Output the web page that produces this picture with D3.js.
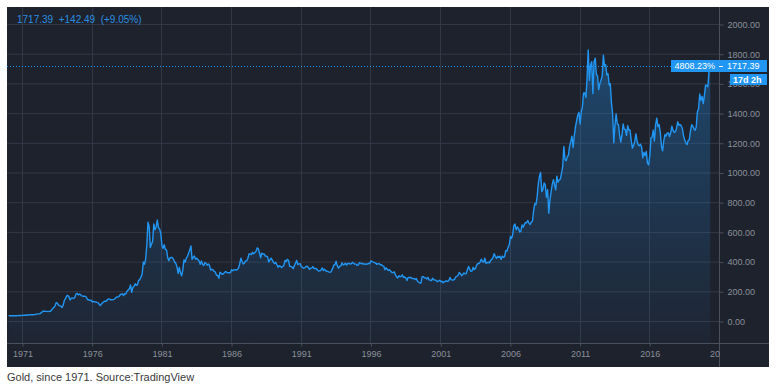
<!DOCTYPE html>
<html><head><meta charset="utf-8">
<script src="https://cdn.jsdelivr.net/npm/d3@7"></script>
<style>
html,body{margin:0;padding:0;background:#ffffff;}
svg{display:block;}
</style></head>
<body>
<svg id="chart" width="777" height="389"></svg>
<script>
// ---------- DATA (monthly gold price, USD/oz, from Jan 1970) ----------
const startYear = 1970;
const prices1970s = [
  35.0, 35.0, 35.1, 35.6, 35.9, 35.3, 35.3, 35.4, 36.2, 37.5, 37.4, 37.4,
  37.9, 38.7, 38.9, 39.0, 40.5, 40.1, 41.0, 42.7, 42.0, 42.5, 43.0, 43.6,
  46.0, 48.3, 48.3, 49.0, 54.6, 62.0, 67.0, 65.5, 64.9, 64.9, 62.9, 64.9,
  65.1, 74.2, 84.4, 90.5, 102.0, 123.3, 120.3, 106.8, 103.0, 100.1, 90.8, 106.7,
  139.3, 150.2, 168.4, 172.2, 163.3, 142.0, 154.1, 154.6, 151.8, 158.8, 181.7, 186.5,
  175.8, 181.8, 177.1, 169.7, 167.0, 166.3, 166.7, 159.8, 144.0, 142.8, 138.3, 140.3,
  128.2, 132.3, 129.6, 128.4, 125.9, 123.8, 112.5, 104.0, 116.0, 123.2, 130.3, 134.5,
  132.3, 142.8, 148.9, 147.3, 143.0, 143.0, 144.1, 146.0, 154.1, 161.5, 160.5, 164.9,
  175.8, 182.3, 181.6, 170.9, 184.2, 183.1, 200.3, 208.7, 217.1, 242.6, 193.4, 226.0,
  233.7, 251.3, 240.1, 245.3, 274.6, 277.5, 296.5, 315.1, 397.3, 382.0, 415.7, 512.0
];
const prices1980s = [
  665.0, 637.0, 494.5, 517.5, 535.5, 653.5, 614.2, 631.3, 680.0, 629.0, 619.8, 589.8,
  506.5, 489.0, 513.8, 482.8, 479.3, 426.0, 406.0, 425.5, 428.8, 427.0, 414.5, 397.5,
  387.0, 362.6, 320.0, 361.3, 325.3, 304.0, 342.9, 411.5, 397.0, 423.3, 436.0, 456.9,
  480.0, 505.0, 414.8, 429.3, 437.5, 416.0, 422.0, 414.3, 405.0, 382.0, 405.0, 382.4,
  373.8, 394.3, 388.5, 375.8, 384.3, 373.1, 342.4, 348.3, 343.8, 333.5, 329.0, 308.3,
  306.7, 287.8, 329.0, 321.4, 314.0, 317.8, 327.5, 333.3, 326.0, 325.3, 325.3, 326.8,
  345.5, 338.2, 344.0, 345.8, 343.2, 345.5, 357.5, 384.7, 423.2, 401.0, 383.5, 390.9,
  405.0, 405.9, 421.0, 451.0, 451.0, 447.3, 462.5, 453.4, 459.5, 468.8, 492.5, 486.5,
  458.0, 426.2, 457.0, 451.0, 451.6, 436.6, 436.8, 430.0, 397.7, 412.4, 422.6, 410.3,
  394.0, 387.0, 395.1, 378.5, 362.0, 373.0, 368.3, 359.8, 366.5, 375.3, 408.2, 401.0
];
const prices1990s = [
  415.1, 407.7, 368.5, 367.8, 363.1, 352.2, 372.3, 387.8, 408.4, 379.5, 384.9, 386.2,
  366.0, 362.7, 355.7, 357.8, 366.7, 368.4, 362.9, 347.4, 354.9, 357.5, 366.3, 353.2,
  354.1, 353.1, 341.7, 336.4, 337.5, 343.4, 357.8, 340.0, 349.0, 339.3, 334.2, 333.0,
  329.0, 327.6, 337.8, 354.3, 377.5, 378.5, 401.8, 371.6, 355.5, 369.6, 370.9, 391.8,
  377.9, 381.6, 389.2, 376.5, 387.6, 388.3, 384.0, 385.8, 394.9, 389.1, 383.1, 383.3,
  374.9, 376.4, 392.0, 389.8, 385.3, 387.1, 383.4, 382.4, 384.0, 382.7, 387.8, 387.0,
  405.6, 400.7, 396.4, 392.9, 390.6, 382.0, 385.3, 386.5, 379.0, 379.5, 371.3, 369.3,
  345.5, 358.6, 348.2, 340.2, 345.6, 334.6, 326.4, 325.4, 332.1, 311.4, 296.8, 290.2,
  304.9, 297.4, 301.0, 310.7, 293.6, 296.3, 288.9, 273.4, 293.9, 292.3, 294.7, 287.8,
  285.4, 287.1, 279.5, 286.6, 268.6, 261.0, 255.6, 254.8, 299.0, 299.1, 291.4, 290.3
];
const prices2000s = [
  283.3, 293.7, 276.8, 275.1, 272.3, 288.2, 276.8, 277.0, 273.7, 264.5, 269.1, 274.5,
  265.6, 267.5, 257.7, 263.2, 267.5, 270.6, 265.9, 273.0, 293.1, 278.8, 275.5, 276.5,
  282.3, 296.9, 301.4, 308.2, 326.6, 318.5, 304.7, 312.8, 323.7, 316.9, 319.1, 347.2,
  367.5, 347.5, 334.9, 336.8, 361.4, 346.0, 354.8, 375.6, 388.0, 386.3, 398.4, 416.3,
  399.8, 395.9, 423.7, 388.5, 393.3, 395.8, 391.4, 407.3, 415.7, 425.6, 453.4, 435.6,
  422.2, 435.5, 427.5, 435.7, 414.5, 437.1, 429.0, 433.3, 473.3, 470.8, 495.7, 513.0,
  568.8, 556.0, 582.0, 644.0, 653.0, 613.5, 632.5, 623.5, 599.3, 603.8, 646.7, 632.0,
  650.5, 664.2, 661.8, 677.0, 659.1, 650.5, 665.5, 672.0, 743.0, 789.5, 783.5, 833.8,
  923.3, 975.0, 1000.0, 871.0, 885.8, 930.3, 918.0, 833.0, 884.5, 725.0, 814.5, 869.8,
  919.5, 952.0, 916.5, 883.3, 975.5, 934.5, 949.5, 955.5, 995.8, 1040.0, 1175.8, 1087.5
];
const prices2010s = [
  1078.5, 1108.3, 1115.5, 1179.3, 1207.5, 1244.0, 1169.0, 1246.0, 1307.0, 1346.8, 1386.0, 1405.5,
  1327.0, 1411.0, 1439.0, 1535.5, 1536.5, 1505.5, 1628.5, 1826.0, 1620.0, 1722.0, 1746.0, 1531.0,
  1744.0, 1770.0, 1662.5, 1651.3, 1558.0, 1598.5, 1622.0, 1648.5, 1790.0, 1719.0, 1726.0, 1657.5,
  1664.8, 1588.5, 1598.3, 1469.0, 1394.5, 1200.0, 1314.5, 1394.8, 1326.5, 1324.0, 1253.0, 1204.5,
  1251.0, 1326.5, 1291.8, 1288.5, 1250.5, 1315.0, 1285.3, 1285.8, 1216.5, 1164.3, 1182.8, 1206.0,
  1260.3, 1214.0, 1187.0, 1180.3, 1190.5, 1171.0, 1098.4, 1135.0, 1114.0, 1142.3, 1061.8, 1052.0,
  1111.8, 1234.9, 1237.0, 1285.7, 1212.1, 1320.8, 1366.0, 1309.3, 1322.5, 1272.0, 1178.1, 1145.9,
  1212.8, 1255.6, 1244.9, 1266.5, 1266.2, 1242.3, 1267.6, 1311.8, 1283.1, 1270.2, 1274.6, 1296.5,
  1341.3, 1318.4, 1323.9, 1315.3, 1298.5, 1250.5, 1220.0, 1201.5, 1187.3, 1214.9, 1221.0, 1279.0,
  1321.2, 1313.0, 1295.4, 1283.6, 1305.6, 1409.6, 1427.6, 1528.4, 1485.3, 1513.0, 1464.0, 1517.3
];
const prices2020s = [1587.9, 1585.7, 1577.0, 1686.2, 1717.39];

const yTickValues = [0, 200, 400, 600, 800, 1000, 1200, 1400, 1600, 1800, 2000];
const xTickYears = [1971, 1976, 1981, 1986, 1991, 1996, 2001, 2006, 2011, 2016, 2021];
const headerText = "1717.39  +142.49  (+9.05%)";
const lastPrice = 1717.39;
const changeLabel = "4808.23%";
const countdownLabel = "17d 2h";
const captionText = "Gold, since 1971. Source:TradingView";

// ---------- BUILD ----------
const allPrices = [...prices1970s, ...prices1980s, ...prices1990s, ...prices2000s, ...prices2010s, ...prices2020s];
const data = allPrices.map((v, i) => ({ date: new Date(startYear, i, 15), v }));

const svg = d3.select("#chart");
const panel = { x: 7, y: 7, w: 762, h: 360 };
const axisX = 719;   // price-scale separator
const axisY = 343;   // time-scale separator

const bg = "#1e222d", grid = "#333846", sep = "#4a4f5b", labelCol = "#8b909a", blue = "#2196f3";

const x = d3.scaleTime().domain([new Date(1971, 0, 1), new Date(2021, 0, 1)]).range([22, axisX]);
const y = d3.scaleLinear().domain([0, 2000]).range([321, 24]);

svg.append("rect").attr("x", panel.x).attr("y", panel.y).attr("width", panel.w).attr("height", panel.h).attr("fill", bg);

const defs = svg.append("defs");
defs.append("clipPath").attr("id", "plotClip").append("rect")
  .attr("x", panel.x).attr("y", panel.y).attr("width", axisX - panel.x).attr("height", axisY - panel.y);
defs.append("clipPath").attr("id", "timeClip").append("rect")
  .attr("x", panel.x).attr("y", axisY).attr("width", axisX - panel.x + 1).attr("height", panel.y + panel.h - axisY);
const grad = defs.append("linearGradient").attr("id", "areaGrad")
  .attr("gradientUnits", "userSpaceOnUse").attr("x1", 0).attr("x2", 0).attr("y1", y(1850)).attr("y2", axisY);
grad.append("stop").attr("offset", 0).attr("stop-color", blue).attr("stop-opacity", 0.33);
grad.append("stop").attr("offset", 1).attr("stop-color", blue).attr("stop-opacity", 0.03);

// grid
const gGrid = svg.append("g").attr("clip-path", "url(#plotClip)");
gGrid.selectAll("line.h").data(yTickValues).join("line").attr("class", "h")
  .attr("x1", panel.x).attr("x2", axisX).attr("y1", d => y(d) + 0.5).attr("y2", d => y(d) + 0.5)
  .attr("stroke", grid).attr("stroke-width", 1);
gGrid.selectAll("line.v").data(xTickYears).join("line").attr("class", "v")
  .attr("x1", d => Math.round(x(new Date(d, 0, 1))) + 0.5).attr("x2", d => Math.round(x(new Date(d, 0, 1))) + 0.5)
  .attr("y1", panel.y).attr("y2", axisY)
  .attr("stroke", grid).attr("stroke-width", 1);

// area + line
const gPlot = svg.append("g").attr("clip-path", "url(#plotClip)");
gPlot.append("path").datum(data)
  .attr("d", d3.area().x(d => x(d.date)).y0(axisY).y1(d => y(d.v)))
  .attr("fill", "url(#areaGrad)");
gPlot.append("path").datum(data)
  .attr("d", d3.line().x(d => x(d.date)).y(d => y(d.v)))
  .attr("fill", "none").attr("stroke", blue).attr("stroke-width", 1.4).attr("stroke-linejoin", "round");

// last price dotted line
gPlot.append("line").attr("x1", panel.x).attr("x2", axisX)
  .attr("y1", Math.round(y(lastPrice)) + 0.5).attr("y2", Math.round(y(lastPrice)) + 0.5)
  .attr("stroke", blue).attr("stroke-width", 1).attr("stroke-dasharray", "1,2");

// separators
svg.append("line").attr("x1", panel.x).attr("x2", panel.x + panel.w).attr("y1", axisY + 0.5).attr("y2", axisY + 0.5)
  .attr("stroke", sep).attr("stroke-width", 1);
svg.append("line").attr("x1", axisX + 0.5).attr("x2", axisX + 0.5).attr("y1", panel.y).attr("y2", panel.y + panel.h)
  .attr("stroke", sep).attr("stroke-width", 1);

// price axis
const yAxis = d3.axisRight(y).tickValues(yTickValues).tickFormat(d3.format(".2f")).tickSize(4).tickPadding(4);
const gy = svg.append("g").attr("transform", `translate(${axisX + 0.5},0.5)`).call(yAxis);
gy.select(".domain").remove();
gy.selectAll(".tick line").attr("stroke", sep);
gy.selectAll(".tick text").attr("fill", labelCol).style("font-family", "'Liberation Sans', Arial, sans-serif").style("font-size", "9px");

// time axis
const xAxis = d3.axisBottom(x).tickValues(xTickYears.map(d => new Date(d, 0, 1))).tickFormat(d3.timeFormat("%Y")).tickSize(3).tickPadding(4);
const gx = svg.append("g").attr("clip-path", "url(#timeClip)").append("g").attr("transform", `translate(0.5,${axisY + 0.5})`).call(xAxis);
gx.select(".domain").remove();
gx.selectAll(".tick line").attr("stroke", sep);
gx.selectAll(".tick text").attr("fill", labelCol).style("font-family", "'Liberation Sans', Arial, sans-serif").style("font-size", "9px");

// header
svg.append("text").attr("x", 17).attr("y", 23).text(headerText)
  .attr("fill", "#2a8fe0").style("font-family", "'Liberation Sans', Arial, sans-serif").style("font-size", "10px")
  .attr("xml:space", "preserve");

// price label boxes
const ly = y(lastPrice);
svg.append("rect").attr("x", 671).attr("y", Math.round(ly) - 6).attr("width", 96).attr("height", 12).attr("fill", blue);
svg.append("text").attr("x", 715).attr("y", ly + 3.5).attr("text-anchor", "end").text(changeLabel)
  .attr("fill", "#ffffff").style("font-family", "'Liberation Sans', Arial, sans-serif").style("font-size", "9px");
svg.append("line").attr("x1", axisX).attr("x2", axisX + 4).attr("y1", Math.round(ly) + 0.5).attr("y2", Math.round(ly) + 0.5)
  .attr("stroke", "#ffffff").attr("stroke-width", 1);
svg.append("text").attr("x", 727).attr("y", ly + 3.5).text(d3.format(".2f")(lastPrice))
  .attr("fill", "#ffffff").style("font-family", "'Liberation Sans', Arial, sans-serif").style("font-size", "9px");
svg.append("rect").attr("x", 730).attr("y", Math.round(ly) + 8).attr("width", 37).attr("height", 11).attr("fill", blue);
svg.append("text").attr("x", 733).attr("y", ly + 17).text(countdownLabel)
  .attr("fill", "#ffffff").style("font-family", "'Liberation Sans', Arial, sans-serif").style("font-size", "9px").style("font-weight", "bold");

// caption
svg.append("text").attr("x", 7).attr("y", 381).text(captionText)
  .attr("fill", "#3a3a3a").style("font-family", "'Liberation Sans', Arial, sans-serif").style("font-size", "11px");
</script>
</body></html>
